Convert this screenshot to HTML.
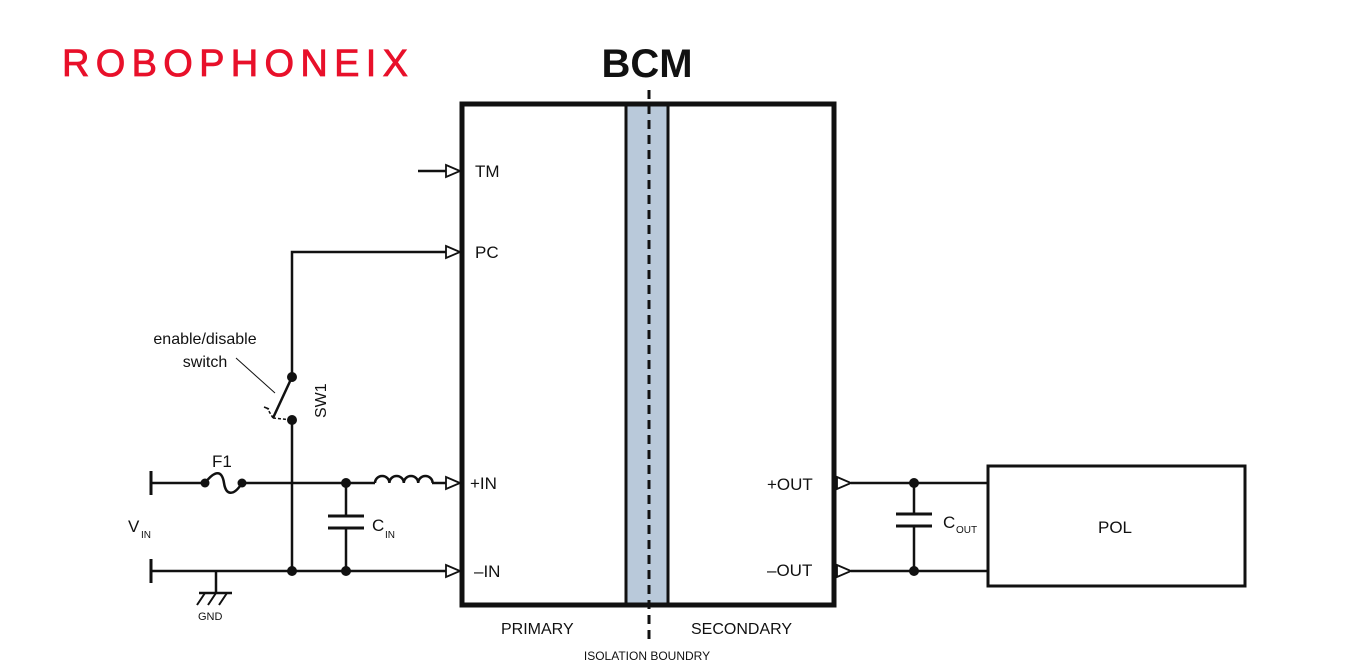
<!DOCTYPE html>
<html><head><meta charset="utf-8"><style>
html,body{margin:0;padding:0;background:#fff;}
svg{display:block;font-family:"Liberation Sans",Arial,sans-serif;}
</style></head><body>
<svg width="1356" height="671" viewBox="0 0 1356 671" xmlns="http://www.w3.org/2000/svg">
<text x="62" y="76" font-size="38" fill="#e8102a" textLength="346" lengthAdjust="spacing" stroke="#e8102a" stroke-width="0.8">ROBOPHONEIX</text>
<text x="647" y="77" font-size="40" font-weight="bold" text-anchor="middle" fill="#111">BCM</text>
<rect x="626" y="104" width="42" height="501" fill="#b9c9da" stroke="#111" stroke-width="3"/>
<rect x="462" y="104" width="372" height="501" fill="none" stroke="#111" stroke-width="5"/>
<line x1="649" y1="90" x2="649" y2="642" stroke="#111" stroke-width="3" stroke-dasharray="9,6"/>
<g stroke="#111" stroke-width="2.5" fill="none">
<line x1="418" y1="171" x2="448" y2="171"/>
<polygon points="446,165 460,171 446,177" fill="#fff" stroke-width="1.8"/>
<polyline points="292,377 292,252 448,252"/>
<polygon points="446,246 460,252 446,258" fill="#fff" stroke-width="1.8"/>
<line x1="151" y1="483" x2="205" y2="483"/>
<path d="M205,483 C215,470 222,470 224,483 C226,496 234,496 242,483"/>
<line x1="242" y1="483" x2="375" y2="483"/>
<path d="M375,483 a7.2,7 0 0 1 14.4,0 a7.2,7 0 0 1 14.4,0 a7.2,7 0 0 1 14.4,0 a7.2,7 0 0 1 14.4,0"/>
<line x1="432" y1="483" x2="448" y2="483"/>
<polygon points="446,477 460,483 446,489" fill="#fff" stroke-width="1.8"/>
<line x1="151" y1="571" x2="448" y2="571"/>
<polygon points="446,565 460,571 446,577" fill="#fff" stroke-width="1.8"/>
<line x1="151" y1="471" x2="151" y2="495" stroke-width="3"/>
<line x1="151" y1="559" x2="151" y2="583" stroke-width="3"/>
<line x1="292" y1="420" x2="292" y2="571"/>
<line x1="292" y1="377" x2="273" y2="418"/>
<line x1="273" y1="418" x2="292" y2="420" stroke-width="1.5" stroke-dasharray="3,2"/>
<line x1="273" y1="418" x2="267" y2="408" stroke-width="1.5" stroke-dasharray="3,2"/>
<line x1="269" y1="409" x2="264" y2="407" stroke-width="1.5"/>
<line x1="275" y1="393" x2="236" y2="358" stroke-width="1"/>
<line x1="346" y1="483" x2="346" y2="516"/>
<line x1="346" y1="528" x2="346" y2="571"/>
<line x1="328" y1="516" x2="364" y2="516" stroke-width="3"/>
<line x1="328" y1="528" x2="364" y2="528" stroke-width="3"/>
<line x1="216" y1="571" x2="216" y2="593"/>
<line x1="199" y1="593" x2="232" y2="593"/>
<line x1="205" y1="593" x2="197" y2="605" stroke-width="2"/>
<line x1="216" y1="593" x2="208" y2="605" stroke-width="2"/>
<line x1="227" y1="593" x2="219" y2="605" stroke-width="2"/>
<polygon points="837,477 851,483 837,489" fill="#fff" stroke-width="1.8"/>
<polygon points="837,565 851,571 837,577" fill="#fff" stroke-width="1.8"/>
<line x1="851" y1="483" x2="988" y2="483"/>
<line x1="851" y1="571" x2="988" y2="571"/>
<line x1="914" y1="483" x2="914" y2="514"/>
<line x1="914" y1="526" x2="914" y2="571"/>
<line x1="896" y1="514" x2="932" y2="514" stroke-width="3"/>
<line x1="896" y1="526" x2="932" y2="526" stroke-width="3"/>
<rect x="988" y="466" width="257" height="120" stroke-width="3"/>
</g>
<g fill="#111">
<circle cx="205" cy="483" r="4.5"/><circle cx="242" cy="483" r="4.5"/>
<circle cx="346" cy="483" r="5"/><circle cx="346" cy="571" r="5"/>
<circle cx="292" cy="571" r="5"/>
<circle cx="292" cy="377" r="5"/><circle cx="292" cy="420" r="5"/>
<circle cx="914" cy="483" r="5"/><circle cx="914" cy="571" r="5"/>
</g>
<g fill="#111" font-size="17">
<text x="475" y="177">TM</text>
<text x="475" y="258">PC</text>
<text x="470" y="489">+IN</text>
<text x="474" y="577">–IN</text>
<text x="767" y="490">+OUT</text>
<text x="767" y="576">–OUT</text>
<text x="1098" y="533">POL</text>
<text x="212" y="467">F1</text>
<text x="128" y="532">V</text><text x="141" y="538" font-size="10">IN</text>
<text x="372" y="531">C</text><text x="385" y="538" font-size="10">IN</text>
<text x="943" y="528">C</text><text x="956" y="533" font-size="10">OUT</text>
<text x="205" y="344" text-anchor="middle" font-size="16">enable/disable</text>
<text x="205" y="367" text-anchor="middle" font-size="16">switch</text>
<text transform="translate(326,418) rotate(-90)" font-size="16">SW1</text>
<text x="501" y="634" font-size="16">PRIMARY</text>
<text x="691" y="634" font-size="16">SECONDARY</text>
<text x="647" y="660" text-anchor="middle" font-size="12">ISOLATION BOUNDRY</text>
<text x="198" y="620" font-size="11">GND</text>
</g>
</svg>
</body></html>
